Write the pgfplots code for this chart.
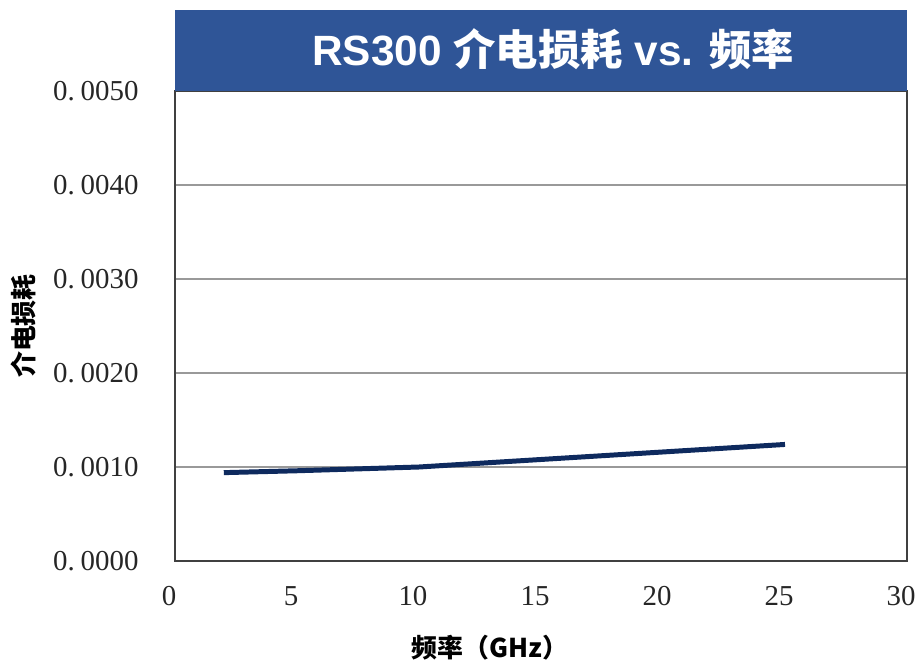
\documentclass[border=0pt]{standalone}
\usepackage{pgfplots}
\pgfplotsset{compat=1.18}
\usepackage{fontspec}
\setmainfont{Liberation Serif}
\newfontfamily\cjk{Noto Sans CJK SC}
\newfontfamily\titlefont{Liberation Sans}
\definecolor{titleblue}{HTML}{2F5597}
\definecolor{linenavy}{HTML}{0E2A5E}
\begin{document}
\begin{tikzpicture}
\path[use as bounding box] (-175bp,-101bp) rectangle (740bp,561bp);
\begin{axis}[
    at={(0,0)}, anchor=south west,
    scale only axis,
    width=732bp, height=470bp,
    xmin=0, xmax=30, ymin=0, ymax=0.005,
    xtick={0,5,...,30},
    ytick={0,0.001,0.002,0.003,0.004,0.005},
    yticklabels={0.\hspace{0.2em}0000,0.\hspace{0.2em}0010,0.\hspace{0.2em}0020,0.\hspace{0.2em}0030,0.\hspace{0.2em}0040,0.\hspace{0.2em}0050},
    scaled y ticks=false,
    xticklabels={0,5,10,15,20,25,30},
    tick label style={font=\fontsize{29}{30}\selectfont, text=black!85},
    yticklabel style={xshift=-33bp},
    xticklabel style={yshift=-22bp, xshift=-6bp},
    major tick length=0pt,
    ymajorgrids,
    grid style={gray!80, line width=1.2pt},
    axis line style={black!75, line width=1.5pt},
    xlabel={\cjk\bfseries 频率（GHz）},
    ylabel={\cjk\bfseries 介电损耗},
    label style={font=\fontsize{26}{27}\selectfont},
    xlabel style={at={(0.43,0)}, anchor=north, yshift=-71bp},
    ylabel style={at={(0,0.5)}, anchor=south, yshift=135bp},
]
\addplot[linenavy, line width=5pt] coordinates {
    (2,0.00094) (5,0.00096) (10,0.00100) (15,0.00108) (20,0.00116) (25,0.00124)
};
\end{axis}
\fill[titleblue] (0,470bp) rectangle (732bp,551bp);
\node[text=white, font=\fontsize{42.5}{44}\selectfont] at (378bp,512bp)
    {\titlefont\bfseries RS300 {\cjk\bfseries 介电损耗} vs. {\cjk\bfseries 频率}};
\end{tikzpicture}
\end{document}
